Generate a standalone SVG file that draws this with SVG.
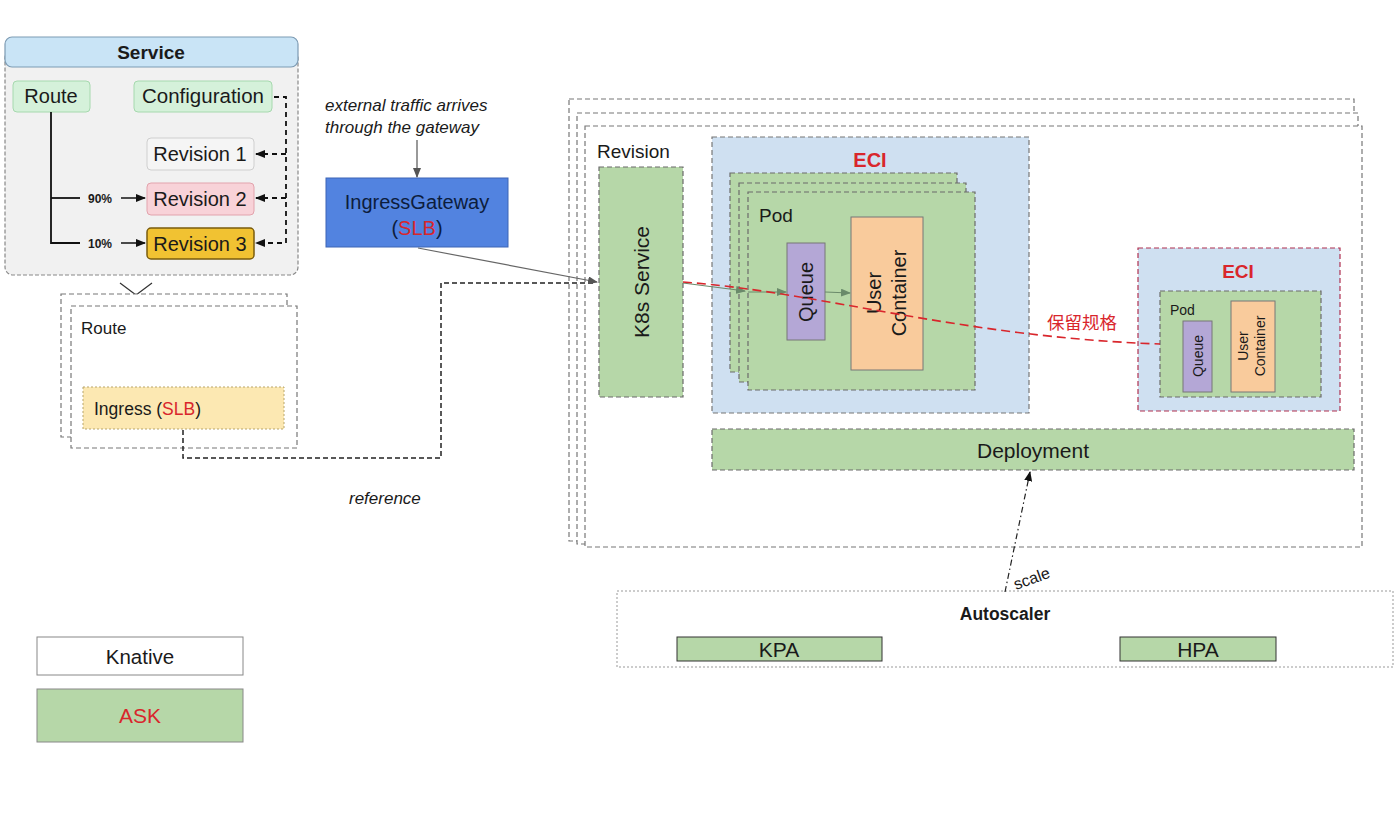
<svg xmlns="http://www.w3.org/2000/svg" width="1400" height="817" viewBox="0 0 1400 817">
<style>
text{font-family:"Liberation Sans",Arial,sans-serif;fill:#1a1a1a}
.dash{fill:none;stroke:#777;stroke-width:1.2;stroke-dasharray:5,3}
.grn{fill:#b6d7a8;stroke:#6b6b6b;stroke-width:1.2;stroke-dasharray:5,3}
.eci{fill:#cfe0f1;stroke:#777;stroke-width:1.2;stroke-dasharray:5,3}
.red{fill:#d9262c}
.sv{font-size:20px}
</style>
<defs>
<marker id="ah" markerWidth="10" markerHeight="8" refX="9" refY="4" orient="auto" markerUnits="userSpaceOnUse"><path d="M0,0 L10,4 L0,8 z" fill="#555"/></marker>
<marker id="ahb" markerWidth="10" markerHeight="8" refX="9" refY="4" orient="auto" markerUnits="userSpaceOnUse"><path d="M0,0 L10,4 L0,8 z" fill="#111"/></marker>
<marker id="ahg" markerWidth="10" markerHeight="8" refX="9" refY="4" orient="auto" markerUnits="userSpaceOnUse"><path d="M0,0 L10,4 L0,8 z" fill="#6a8a6a"/></marker>
</defs>
<rect width="1400" height="817" fill="#fff"/>

<!-- Service panel -->
<g id="service">
<rect x="5" y="50" width="293" height="225" rx="8" fill="#f1f1f1" stroke="#888" stroke-width="1.2" stroke-dasharray="4,2"/>
<rect x="5" y="37" width="293" height="30" rx="7" fill="#c9e4f6" stroke="#7d9bb3" stroke-width="1.2"/>
<text x="151" y="59" text-anchor="middle" font-size="19" font-weight="bold">Service</text>
</g>
<g id="route-node"><rect x="13" y="81" width="77" height="31" rx="4" fill="#d5f1da" stroke="#a6d9ae"/><text x="51" y="103" text-anchor="middle" class="sv">Route</text></g>
<g id="configuration"><rect x="134" y="81" width="138" height="31" rx="4" fill="#d5f1da" stroke="#a6d9ae"/><text x="203" y="103" text-anchor="middle" class="sv" style="font-size:20.5px">Configuration</text></g>
<g id="revision1"><rect x="147" y="138" width="107" height="32" rx="4" fill="#f5f5f5" stroke="#cfcfcf"/><text x="200" y="161" text-anchor="middle" class="sv">Revision 1</text></g>
<g id="revision2"><rect x="147" y="183" width="107" height="32" rx="4" fill="#f8d2d8" stroke="#e2a3ad"/><text x="200" y="206" text-anchor="middle" class="sv">Revision 2</text></g>
<g id="revision3"><rect x="147" y="228" width="107" height="31" rx="4" fill="#f1c232" stroke="#7a5c0d" stroke-width="1.5"/><text x="200" y="251" text-anchor="middle" class="sv">Revision 3</text></g>

<!-- Route stack -->
<g id="route-stack">
<path d="M120,283 L136,295 L152,283" fill="none" stroke="#333" stroke-width="1.2"/>
<rect x="61" y="294" width="226" height="143" class="dash" style="fill:#fff"/>
<rect x="71" y="306" width="226" height="142" class="dash" style="fill:#fff"/>
<text x="81" y="334" font-size="17">Route</text>
</g>
<g id="ingress-slb"><rect x="83" y="387" width="201" height="42" fill="#fce8b2" stroke="#b8a56a" stroke-width="1" stroke-dasharray="2,2"/><text x="94" y="415" font-size="17.5">Ingress (<tspan class="red">SLB</tspan>)</text></g>

<!-- gateway -->
<text x="325" y="111" font-size="17" font-style="italic">external traffic arrives</text>
<text x="325" y="133" font-size="17" font-style="italic">through the gateway</text>
<g id="ingress-gateway"><rect x="326" y="178" width="182" height="69" fill="#5283e0" stroke="#3d64b5"/><text x="417" y="209" text-anchor="middle" font-size="20" style="fill:#0d1d3d">IngressGateway</text><text x="417" y="235" text-anchor="middle" font-size="20" style="fill:#0d1d3d">(<tspan class="red">SLB</tspan>)</text></g>
<text x="349" y="504" font-size="17" font-style="italic">reference</text>

<!-- Revision stack -->
<g id="revision-stack">
<rect x="569" y="99" width="785" height="442" class="dash" style="fill:#fff"/>
<rect x="577" y="113" width="781" height="431" class="dash" style="fill:#fff"/>
<rect x="585" y="126" width="777" height="421" class="dash" style="fill:#fff"/>
<text x="597" y="158" font-size="19">Revision</text>
</g>
<g id="k8s-service"><rect x="599" y="167" width="84" height="230" class="grn"/><text transform="translate(649,282) rotate(-90)" text-anchor="middle" font-size="21">K8s Service</text></g>
<g id="eci-main">
<rect x="712" y="137" width="317" height="276" class="eci"/>
<text x="870" y="167" text-anchor="middle" font-size="20" font-weight="bold" class="red">ECI</text>
</g>
<g id="pods">
<rect x="730" y="173" width="227" height="199" class="grn"/>
<rect x="739" y="183" width="227" height="199" class="grn"/>
<rect x="748" y="192" width="227" height="198" class="grn"/>
<text x="759" y="222" font-size="19">Pod</text>
</g>
<g id="queue"><rect x="787" y="243" width="38" height="97" fill="#b4a7d6" stroke="#777"/><text transform="translate(813,292) rotate(-90)" text-anchor="middle" font-size="20">Queue</text></g>
<g id="user-container"><rect x="851" y="217" width="72" height="153" fill="#f9cb9c" stroke="#777"/><text transform="translate(881,293) rotate(-90)" text-anchor="middle" font-size="20">User</text><text transform="translate(906,293) rotate(-90)" text-anchor="middle" font-size="20">Container</text></g>

<g id="eci-reserved">
<rect x="1138" y="248" width="202" height="163" fill="#cfe0f1" stroke="#b03050" stroke-width="1.2" stroke-dasharray="5,3"/>
<text x="1238" y="278" text-anchor="middle" font-size="19" font-weight="bold" class="red">ECI</text>
<rect x="1160" y="291" width="161" height="106" class="grn"/>
<text x="1170" y="315" font-size="14">Pod</text>
<rect x="1183" y="321" width="29" height="71" fill="#b4a7d6" stroke="#777"/>
<text transform="translate(1203,356) rotate(-90)" text-anchor="middle" font-size="14">Queue</text>
<rect x="1231" y="301" width="44" height="91" fill="#f9cb9c" stroke="#777"/>
<text transform="translate(1248,346) rotate(-90)" text-anchor="middle" font-size="14">User</text>
<text transform="translate(1265,346) rotate(-90)" text-anchor="middle" font-size="14">Container</text>
</g>
<text x="1047" y="329" font-size="17.5" style="fill:#d9262c;font-family:'Noto Sans CJK SC','Liberation Sans',sans-serif">保留规格</text>

<g id="deployment"><rect x="712" y="429" width="642" height="41" class="grn"/><text x="1033" y="458" text-anchor="middle" font-size="21">Deployment</text></g>

<g id="autoscaler">
<rect x="617" y="591" width="776" height="76" fill="none" stroke="#999" stroke-width="1" stroke-dasharray="2,2"/>
<text x="1005" y="620" text-anchor="middle" font-size="17.5" font-weight="bold">Autoscaler</text>
</g>
<g id="kpa"><rect x="677" y="637" width="205" height="24" fill="#b6d7a8" stroke="#333"/><text x="779" y="657" text-anchor="middle" font-size="21">KPA</text></g>
<g id="hpa"><rect x="1120" y="637" width="156" height="24" fill="#b6d7a8" stroke="#333"/><text x="1198" y="657" text-anchor="middle" font-size="21">HPA</text></g>

<g id="legend-knative"><rect x="37" y="637" width="206" height="38" fill="#fff" stroke="#888"/><text x="140" y="664" text-anchor="middle" font-size="20.5">Knative</text></g>
<g id="legend-ask"><rect x="37" y="689" width="206" height="53" fill="#b6d7a8" stroke="#888"/><text x="140" y="723" text-anchor="middle" font-size="21" class="red">ASK</text></g>

<!-- connectors -->
<g id="connectors">
<path d="M51,112 V243 H80" fill="none" stroke="#111" stroke-width="1.8"/>
<path d="M51,198 H80" fill="none" stroke="#111" stroke-width="1.8"/>
<text x="88" y="203" font-size="12" font-weight="bold">90%</text>
<text x="88" y="248" font-size="12" font-weight="bold">10%</text>
<path d="M121,198 H145" fill="none" stroke="#111" stroke-width="1.5" marker-end="url(#ahb)"/>
<path d="M121,243 H145" fill="none" stroke="#111" stroke-width="1.5" marker-end="url(#ahb)"/>
<path d="M274,97 H286 V243 H256" fill="none" stroke="#111" stroke-width="1.8" stroke-dasharray="5,4" marker-end="url(#ahb)"/>
<path d="M286,154 H256" fill="none" stroke="#111" stroke-width="1.8" stroke-dasharray="5,4" marker-end="url(#ahb)"/>
<path d="M286,198 H256" fill="none" stroke="#111" stroke-width="1.8" stroke-dasharray="5,4" marker-end="url(#ahb)"/>
<path d="M183,430 V458 H441 V283 H596" fill="none" stroke="#222" stroke-width="1.5" stroke-dasharray="5,3"/>
<path d="M417,140 V177" fill="none" stroke="#555" stroke-width="1.2" marker-end="url(#ah)"/>
<path d="M418,248 L597,282" fill="none" stroke="#666" stroke-width="1.2" marker-end="url(#ah)"/>
<path d="M683,283 L745,291" fill="none" stroke="#6a8a6a" stroke-width="1.2" marker-end="url(#ahg)"/>
<path d="M748,292 H786" fill="none" stroke="#6a8a6a" stroke-width="1.2" marker-end="url(#ahg)"/>
<path d="M825,292 L850,293" fill="none" stroke="#6a8a6a" stroke-width="1.2" marker-end="url(#ahg)"/>
<path d="M683,282 C820,292 960,337 1160,344" fill="none" stroke="#d9262c" stroke-width="1.6" stroke-dasharray="9,5"/>
<path d="M1005,592 L1030,472" fill="none" stroke="#222" stroke-width="1.2" stroke-dasharray="6,3,1.5,3" marker-end="url(#ahb)"/>
<text transform="translate(1016,590) rotate(-20)" font-size="16">scale</text>
</g>
</svg>
